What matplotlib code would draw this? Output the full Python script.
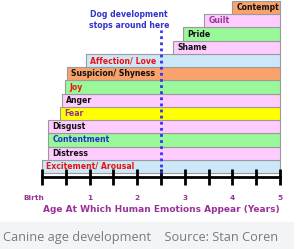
import matplotlib
matplotlib.use("Agg")
import matplotlib.pyplot as plt
import matplotlib.transforms as mtransforms

# emotions listed bottom -> top, with the age (years) each appears
emotions = ["Excitement/ Arousal", "Distress", "Contentment", "Disgust", "Fear",
            "Anger", "Joy", "Suspicion/ Shyness", "Affection/ Love", "Shame",
            "Pride", "Guilt", "Contempt"]
start_age = [0.0, 0.13, 0.13, 0.13, 0.38, 0.42, 0.48, 0.53, 0.92, 2.76, 2.96, 3.41, 4.0]
end_age = 5.0
bar_colors = ["#CCE8F8", "#FFCCFF", "#99F899", "#FFCCFF", "#FFFF00",
              "#FFCCFF", "#99F899", "#F9A26B", "#CCE8F8", "#FFCCFF",
              "#99F899", "#FFCCFF", "#F9A26B"]
text_colors = ["#EE1111", "#111111", "#2233CC", "#111111", "#993399",
               "#111111", "#EE1111", "#111111", "#EE1111", "#111111",
               "#111111", "#993399", "#111111"]

tick_pos = [0, 1, 2, 3, 4, 5]
tick_labels = ["Birth", "1", "2", "3", "4", "5"]
stop_age = 2.5

W, H = 301, 249
fig = plt.figure(figsize=(W / 100, H / 100), dpi=100)
ax = fig.add_axes([42 / W, (H - 177) / H, 238 / W, 176 / H])
ax.set_xlim(0, 5)
ax.set_ylim(-0.3, 13)

for i, (name, s) in enumerate(zip(emotions, start_age)):
    ax.barh(i, end_age - s, left=s, height=1.0, align="edge",
            color=bar_colors[i], edgecolor="#9A9A9A", linewidth=0.8, clip_on=False)
    ax.annotate(name, (s, i + 0.5), xytext=(3, 0), textcoords="offset points",
                ha="left", va="center", fontsize=5.6, fontweight="bold",
                color=text_colors[i])

ax.vlines(stop_age, 0, 10.8, colors="#3333EE", linestyles=(0, (1, 1.2)),
          linewidth=2, zorder=5)
ax.text(1.83, 11.55, "Dog development\nstops around here", ha="center",
        va="center", fontsize=5.6, fontweight="bold", color="#3333CC",
        linespacing=1.3)

for sp in ["top", "right", "left"]:
    ax.spines[sp].set_visible(False)
ax.spines["bottom"].set_linewidth(2)
ax.spines["bottom"].set_position(("data", -0.3))
ax.set_yticks([])
ax.set_xticks(tick_pos)
ax.set_xticks([0.5, 1.5, 2.5, 3.5, 4.5], minor=True)
ax.set_xticklabels(tick_labels, fontsize=5.3, fontweight="bold", color="#993399")
ax.tick_params(axis="x", which="both", direction="inout", length=12, width=2,
               color="black", pad=7)
offset = mtransforms.ScaledTranslation(-8 / 100, 0, fig.dpi_scale_trans)
lab0 = ax.get_xticklabels()[0]
lab0.set_transform(lab0.get_transform() + offset)
ax.set_xlabel("Age At Which Human Emotions Appear (Years)", fontsize=6.5,
              fontweight="bold", color="#993399", labelpad=3)

# caption strip
fig.patches.append(plt.Rectangle((0, 0), 293 / W, 27 / H, transform=fig.transFigure,
                                 color="#F3F4F6", zorder=0))
fig.text(3 / W, 12 / H, "Canine age development    Source: Stan Coren",
         fontsize=9.2, color="#7A7A7A", family="Open Sans", va="center")

fig.savefig("out.png", dpi=100)
